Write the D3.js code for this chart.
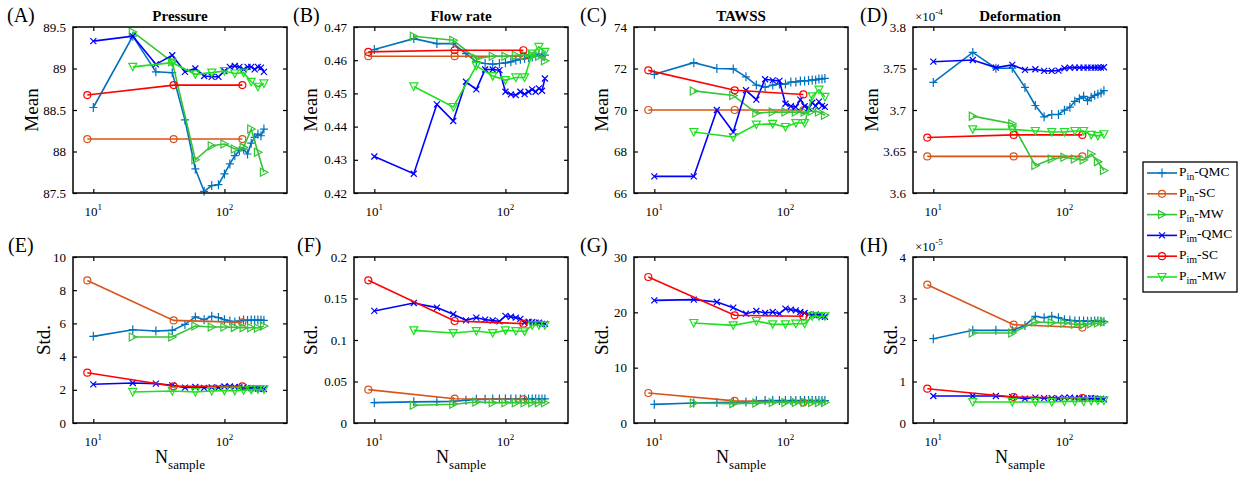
<!DOCTYPE html>
<html>
<head>
<meta charset="utf-8">
<script src="https://cdn.jsdelivr.net/npm/d3@7"></script>
<style>
body{margin:0;background:#fff;}
svg{display:block;}
</style>
</head>
<body>
<div id="chart"></div>
<script>
// sample sizes for each method
const nQMC = [10,20,30,40,50,60,70,80,90,100,110,120,130,140,150,160,170,180,190,200];
const nSC = [9,41,137];
const nMW = [20,40,60,80,100,120,140,160,180,200];

// series order: Pin-QMC, Pin-SC, Pin-MW, Pim-QMC, Pim-SC, Pim-MW
const meanPressure = [
  [88.53,89.39,88.96,88.95,88.38,87.79,87.52,87.59,87.60,87.73,87.85,87.95,88.01,88.03,87.97,88.10,88.17,88.21,88.19,88.27],
  [88.15,88.15,88.15],
  [89.44,89.08,87.90,88.07,88.09,88.03,88.05,88.27,87.99,87.75],
  [89.33,89.39,89.05,89.16,88.96,89.00,88.91,88.90,88.90,88.97,89.02,89.03,89.02,88.99,89.02,89.02,88.99,89.02,89.01,88.96],
  [88.68,88.80,88.80],
  [89.02,89.07,88.93,88.95,88.97,88.94,88.95,88.84,88.78,88.82]
];
const meanFlow = [
  [0.4632,0.4665,0.4650,0.4650,0.4620,0.4595,0.4590,0.4588,0.4590,0.4592,0.4595,0.4600,0.4603,0.4605,0.4608,0.4610,0.4613,0.4618,0.4612,0.4615],
  [0.4612,0.4612,0.4612],
  [0.4672,0.4660,0.4605,0.4612,0.4612,0.4615,0.4615,0.4615,0.4612,0.4598],
  [0.4310,0.4258,0.4467,0.4417,0.4535,0.4512,0.4572,0.4572,0.4570,0.4505,0.4497,0.4495,0.4505,0.4498,0.4505,0.4512,0.4505,0.4515,0.4508,0.4545],
  [0.4625,0.4630,0.4630],
  [0.4521,0.4459,0.4583,0.4552,0.4540,0.4548,0.4548,0.4620,0.4640,0.4625]
];
const meanTawss = [
  [71.72,72.28,72.00,71.98,71.60,71.20,71.10,71.20,71.25,71.25,71.35,71.35,71.40,71.40,71.42,71.45,71.45,71.50,71.50,71.52],
  [70.0,70.0,70.0],
  [70.92,70.70,69.85,69.90,69.90,69.90,69.90,69.95,69.90,69.75],
  [66.8,66.8,70.0,68.94,70.95,70.5,71.48,71.43,71.4,70.3,70.18,70.14,70.5,70.18,70.1,70.35,70.2,70.4,70.2,70.15],
  [71.91,70.95,70.75],
  [68.94,68.70,69.30,69.33,69.18,69.37,69.37,70.66,70.98,70.63]
];
const meanDeform = [ // x 1e-4
  [3.7332,3.7694,3.7503,3.7503,3.7272,3.7054,3.6918,3.6946,3.6946,3.6998,3.7034,3.7105,3.7137,3.7165,3.7113,3.7153,3.7177,3.7193,3.7205,3.7233],
  [3.6441,3.6441,3.6441],
  [3.6926,3.6835,3.6330,3.6410,3.6430,3.6410,3.6398,3.6470,3.6378,3.6270],
  [3.7582,3.7602,3.7511,3.7543,3.7483,3.7491,3.7471,3.7471,3.7475,3.7503,3.7510,3.7510,3.7510,3.7510,3.7510,3.7510,3.7510,3.7510,3.7510,3.7515],
  [3.6668,3.6700,3.6700],
  [3.6767,3.6767,3.6747,3.6735,3.6735,3.6747,3.6747,3.6700,3.6688,3.6708]
];
const stdPressure = [
  [5.22,5.62,5.54,5.58,5.94,6.39,6.22,6.43,6.35,6.22,6.14,6.08,6.15,6.20,6.18,6.20,6.20,6.20,6.20,6.18],
  [8.59,6.18,6.06],
  [5.18,5.18,5.84,5.78,5.78,5.76,5.74,5.74,5.72,5.84],
  [2.33,2.41,2.37,2.27,2.13,2.17,2.12,2.15,2.13,2.20,2.20,2.18,2.15,2.13,2.10,2.10,2.08,2.07,2.07,2.05],
  [3.03,2.21,2.21],
  [1.87,1.93,1.87,1.93,1.95,1.95,1.97,2.01,2.03,2.03]
];
const stdFlow = [
  [0.0245,0.0255,0.0258,0.0260,0.0275,0.0285,0.0285,0.0290,0.0290,0.0290,0.0290,0.0290,0.0290,0.0290,0.0290,0.0290,0.0290,0.0290,0.0290,0.0290],
  [0.0402,0.0293,0.0285],
  [0.0213,0.0225,0.0253,0.0245,0.0245,0.0245,0.0245,0.0245,0.0245,0.0245],
  [0.1350,0.1446,0.1390,0.1310,0.1237,0.1270,0.1245,0.1235,0.1225,0.1290,0.1280,0.1270,0.1255,0.1210,0.1220,0.1215,0.1210,0.1210,0.1195,0.1195],
  [0.1719,0.1229,0.1197],
  [0.1116,0.1084,0.1108,0.1084,0.1116,0.1108,0.1104,0.1177,0.1177,0.1177]
];
const stdTawss = [
  [3.37,3.61,3.70,3.75,3.80,4.00,4.05,4.05,4.05,4.05,4.05,4.05,4.05,4.05,4.05,4.05,4.05,4.05,4.05,4.05],
  [5.42,4.00,3.70],
  [3.61,3.50,3.60,3.70,3.70,3.70,3.70,3.70,3.70,3.70],
  [22.17,22.29,21.87,20.84,19.76,20.24,19.88,20.06,19.76,20.66,20.48,20.36,20.06,19.88,19.64,19.50,19.60,19.50,19.30,19.20],
  [26.39,19.46,19.28],
  [18.07,17.65,18.43,17.83,17.83,17.95,17.95,19.28,19.28,19.28]
];
const stdDeform = [ // x 1e-5
  [2.032,2.233,2.233,2.233,2.35,2.57,2.538,2.57,2.538,2.49,2.474,2.458,2.46,2.46,2.45,2.45,2.46,2.46,2.45,2.44],
  [3.333,2.37,2.30],
  [2.169,2.169,2.434,2.418,2.41,2.378,2.37,2.39,2.41,2.434],
  [0.65,0.65,0.65,0.627,0.586,0.61,0.60,0.60,0.59,0.61,0.61,0.60,0.60,0.59,0.59,0.60,0.59,0.58,0.58,0.57],
  [0.827,0.627,0.602],
  [0.506,0.506,0.506,0.506,0.52,0.52,0.52,0.53,0.54,0.54]
];

// y tick values per panel
const ticksA = [87.5,88,88.5,89,89.5];
const ticksB = [0.42,0.43,0.44,0.45,0.46,0.47];
const ticksC = [66,68,70,72,74];
const ticksD = [3.6,3.65,3.7,3.75,3.8];
const ticksE = [0,2,4,6,8,10];
const ticksF = [0,0.05,0.1,0.15,0.2];
const ticksG = [0,10,20,30];
const ticksH = [0,1,2,3,4];
const xTicks = [10,100];

const legendNames = [["in","-QMC"],["in","-SC"],["in","-MW"],["im","-QMC"],["im","-SC"],["im","-MW"]];
const colors = ["#0072BD","#D95319","#35c435","#0000FF","#FF0000","#1ee01e"];
const markers = ["plus","circle","tright","cross","circle","tdown"];
const xsets = [nQMC,nSC,nMW,nQMC,nSC,nMW];

const panels = [
  {tag:"(A)", title:"Pressure",  ylab:"Mean", data:meanPressure, ticks:ticksA, col:0, row:0, tagX:7,   ylOff:35},
  {tag:"(B)", title:"Flow rate", ylab:"Mean", data:meanFlow,     ticks:ticksB, col:1, row:0, tagX:293, ylOff:37},
  {tag:"(C)", title:"TAWSS",     ylab:"Mean", data:meanTawss,    ticks:ticksC, col:2, row:0, tagX:580, ylOff:26},
  {tag:"(D)", title:"Deformation",ylab:"Mean",data:meanDeform,   ticks:ticksD, col:3, row:0, tagX:860, ylOff:35, exp:"-4"},
  {tag:"(E)", ylab:"Std.", data:stdPressure, ticks:ticksE, col:0, row:1, tagX:8,   ylOff:23},
  {tag:"(F)", ylab:"Std.", data:stdFlow,     ticks:ticksF, col:1, row:1, tagX:297, ylOff:37},
  {tag:"(G)", ylab:"Std.", data:stdTawss,    ticks:ticksG, col:2, row:1, tagX:580, ylOff:26},
  {tag:"(H)", ylab:"Std.", data:stdDeform,   ticks:ticksH, col:3, row:1, tagX:860, ylOff:16, exp:"-5"}
];

const FONT = "'Liberation Serif', 'Times New Roman', 'DejaVu Serif', serif";
const W = 1245, H = 481;
const colX = [73,354,634,913], rowY = [27,257];
const pw = 214, ph = 166;

const svg = d3.select("#chart").append("svg")
  .attr("width", W).attr("height", H)
  .attr("font-family", FONT);

function markerPath(type) {
  switch (type) {
    case "plus":   return "M-4,0H4M0,-4.5V4.5";
    case "cross":  return "M-3,-3L3,3M-3,3L3,-3";
    case "circle": return "M3.5,0A3.5,3.5 0 1 1 -3.5,0A3.5,3.5 0 1 1 3.5,0Z";
    case "tright": return "M-3.5,-4L4,0L-3.5,4Z";
    case "tdown":  return "M-4,-3.5L4,-3.5L0,4Z";
  }
}

const x = d3.scaleLog().domain([7,300]).range([0,pw]);

panels.forEach(function(p) {
  const left = colX[p.col], top = rowY[p.row];
  const y = d3.scaleLinear().domain(d3.extent(p.ticks)).range([ph,0]);
  const g = svg.append("g").attr("transform", `translate(${left},${top})`);

  // axes with inward ticks
  const ya = g.append("g").call(d3.axisLeft(y).tickValues(p.ticks).tickSizeInner(-4).tickSizeOuter(0).tickPadding(7).tickFormat(d => String(+d.toFixed(3))));
  g.append("g").attr("transform",`translate(${pw},0)`).call(d3.axisRight(y).tickValues(p.ticks).tickSizeInner(-4).tickSizeOuter(0).tickFormat(""));
  g.append("g").attr("transform",`translate(0,${ph})`).call(d3.axisBottom(x).tickValues(xTicks).tickSizeInner(-4).tickSizeOuter(0).tickFormat(""));
  g.append("g").call(d3.axisTop(x).tickValues(xTicks).tickSizeInner(-4).tickSizeOuter(0).tickFormat(""));
  g.selectAll(".domain").remove();
  g.selectAll("g").attr("font-family", FONT);
  g.selectAll(".tick line").attr("stroke","#000").attr("stroke-width",1.2);
  ya.selectAll("text").attr("font-size",13).attr("font-family",FONT).attr("fill","#000");

  // x tick labels 10^n
  xTicks.forEach(function(t) {
    const tx = g.append("text").attr("x", x(t)).attr("y", ph + 23)
      .attr("text-anchor","middle").attr("font-size",13).attr("font-family",FONT).attr("fill","#000");
    tx.append("tspan").text("10");
    tx.append("tspan").attr("font-size",9).attr("dy",-6).text(Math.round(Math.log10(t)));
  });

  // series
  p.data.forEach(function(vals, i) {
    const pts = vals.map((v, j) => [xsets[i][j], v]);
    const line = d3.line().x(d => x(d[0])).y(d => y(d[1]));
    g.append("path").datum(pts)
      .attr("fill","none").attr("stroke",colors[i]).attr("stroke-width",1.6)
      .attr("d", line);
    g.selectAll(null).data(pts).enter().append("path")
      .attr("transform", d => `translate(${x(d[0])},${y(d[1])})`)
      .attr("d", markerPath(markers[i]))
      .attr("fill","none").attr("stroke",colors[i]).attr("stroke-width",1.2);
  });

  // frame
  g.append("rect").attr("width",pw).attr("height",ph)
    .attr("fill","none").attr("stroke","#000").attr("stroke-width",1.5);

  // y label
  g.append("text")
    .attr("transform",`translate(${-p.ylOff},${ph/2}) rotate(-90)`)
    .attr("text-anchor","middle").attr("font-size",19).attr("font-family",FONT).attr("fill","#000")
    .text(p.ylab);

  // title
  if (p.title) {
    g.append("text").attr("x", pw/2).attr("y", -6)
      .attr("text-anchor","middle").attr("font-size",15).attr("font-weight","bold")
      .attr("font-family",FONT).attr("fill","#000").text(p.title);
  }

  // exponent
  if (p.exp) {
    const e = g.append("text").attr("x", 2).attr("y", -6).attr("font-size",13)
      .attr("font-family",FONT).attr("fill","#000");
    e.append("tspan").text("\u00d710");
    e.append("tspan").attr("font-size",9).attr("dy",-6).text(p.exp);
  }

  // panel tag
  svg.append("text").attr("x", p.tagX).attr("y", top - 5)
    .attr("font-size",20).attr("font-family",FONT).attr("fill","#000").text(p.tag);

  // x label on bottom row
  if (p.row === 1) {
    const xl = g.append("text").attr("x", pw/2).attr("y", ph + 40)
      .attr("text-anchor","middle").attr("font-family",FONT).attr("fill","#000");
    xl.append("tspan").attr("font-size",18).text("N");
    xl.append("tspan").attr("font-size",13).attr("dy",6).text("sample");
  }
});

// legend
const lg = svg.append("g").attr("transform","translate(1143,162)");
lg.append("rect").attr("width",94).attr("height",130)
  .attr("fill","#fff").attr("stroke","#000").attr("stroke-width",1.3);
legendNames.forEach(function(n, i) {
  const ry = 11 + i * 20.8;
  lg.append("line").attr("x1",4).attr("x2",34).attr("y1",ry).attr("y2",ry)
    .attr("stroke",colors[i]).attr("stroke-width",1.6);
  lg.append("path").attr("transform",`translate(19,${ry})`).attr("d",markerPath(markers[i]))
    .attr("fill","none").attr("stroke",colors[i]).attr("stroke-width",1.2);
  const t = lg.append("text").attr("x",36).attr("y",ry + 3).attr("font-size",13.5)
    .attr("font-family",FONT).attr("fill","#000");
  t.append("tspan").text("P");
  t.append("tspan").attr("font-size",10).attr("dy",4).text(n[0]);
  t.append("tspan").attr("dy",-4).text(n[1]);
});
</script>
</body>
</html>
